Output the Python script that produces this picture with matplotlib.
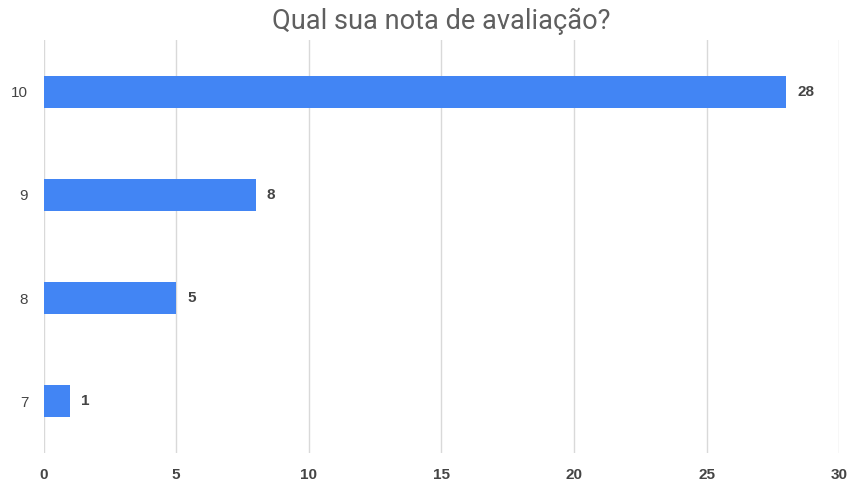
import matplotlib
matplotlib.use("Agg")
import matplotlib.pyplot as plt

plt.rcParams['font.family'] = ['Liberation Sans', 'DejaVu Sans']

categories = ["7", "8", "9", "10"]
values = [1, 5, 8, 28]
x_ticks = [0, 5, 10, 15, 20, 25, 30]
title = "Qual sua nota de avaliação?"

bar_color = "#4285F4"
text_color = "#444444"
grid_color = "#d9d9d9"

fig = plt.figure(figsize=(8.51, 4.83), dpi=100)
W, H = 851, 483
ax = fig.add_axes([43.5 / W, (H - 453) / H, (839.5 - 43.5) / W, (453 - 40) / H])

pos = list(range(len(categories)))
bars = ax.barh(pos, values, height=0.31, color=bar_color, zorder=3)

ax.set_xlim(0, 30)
ax.set_ylim(-0.5, len(categories) - 0.5)
ax.set_xticks(x_ticks)
ax.set_xticklabels([str(t) for t in x_ticks], fontsize=11, color=text_color, fontweight='bold')
ax.set_yticks(pos)
ax.set_yticklabels(categories, fontsize=11, color=text_color)
ax.tick_params(axis='x', length=0, pad=11)
ax.tick_params(axis='y', length=0, pad=11)

ax.grid(axis='x', color=grid_color, linewidth=1, zorder=0)
for s in ax.spines.values():
    s.set_visible(False)

ax.bar_label(bars, labels=[str(v) for v in values], padding=8, fontsize=11,
             color=text_color, fontweight='bold')

fig.text(441.5 / W, 1 - 21 / H, title, ha='center', va='center', fontsize=19.5,
         color="#5f5f5f", family=['Roboto', 'DejaVu Sans'])

fig.savefig("out.png", dpi=100, facecolor="white")
